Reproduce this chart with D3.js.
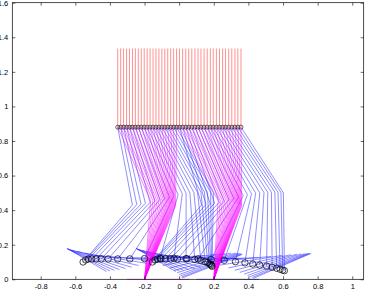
<!DOCTYPE html>
<html>
<head>
<meta charset="utf-8">
<script src="https://cdn.jsdelivr.net/npm/d3@7/dist/d3.min.js"></script>
<style>
  body { margin: 0; background: #fff; }
  text { font-family: "Liberation Sans", Arial, sans-serif; }
</style>
</head>
<body>
<svg id="chart"></svg>
<script>
'use strict';

// tick labels
const xTicks = [-0.8, -0.6, -0.4, -0.2, 0, 0.2, 0.4, 0.6, 0.8, 1];
const yTicks = [0, 0.2, 0.4, 0.6, 0.8, 1, 1.2, 1.4, 1.6];

// hip path (two steps, 21 frames each)
const hipX = [-0.355, -0.338, -0.321, -0.304, -0.287, -0.270, -0.253, -0.236, -0.219, -0.202, -0.185,
  -0.168, -0.151, -0.134, -0.117, -0.100, -0.083, -0.066, -0.049, -0.032, -0.015,
  0.002, 0.020, 0.038, 0.055, 0.073, 0.091, 0.109, 0.126, 0.144, 0.162, 0.180,
  0.197, 0.215, 0.233, 0.251, 0.268, 0.286, 0.304, 0.322, 0.339, 0.357];
const hipY = 0.88;
const trunkTopY = 1.335;

// stance leg (ankle fixed on the ground for each step)
const stanceAnkleX = [-0.2, 0.2];
const stanceHeelX = [-0.30, 0.10];
const stanceToeX = [0.06, 0.46];
const stanceKneeX = [-0.165, -0.152, -0.140, -0.128, -0.117, -0.106, -0.096, -0.087, -0.079, -0.072, -0.066,
  -0.060, -0.055, -0.050, -0.045, -0.041, -0.037, -0.033, -0.029, -0.025, -0.021,
  0.225, 0.238, 0.250, 0.262, 0.273, 0.283, 0.292, 0.300, 0.308, 0.315, 0.321,
  0.327, 0.332, 0.337, 0.341, 0.345, 0.349, 0.352, 0.355, 0.358, 0.361];
const stanceKneeY = [0.455, 0.455, 0.454, 0.453, 0.452, 0.451, 0.450, 0.449, 0.447, 0.446, 0.445,
  0.443, 0.441, 0.439, 0.437, 0.435, 0.433, 0.431, 0.429, 0.427, 0.425,
  0.455, 0.455, 0.454, 0.453, 0.452, 0.451, 0.450, 0.449, 0.447, 0.446, 0.445,
  0.443, 0.441, 0.439, 0.437, 0.435, 0.433, 0.431, 0.429, 0.427, 0.425];

// swing leg
const swingKneeX = [-0.270, -0.245, -0.220, -0.195, -0.168, -0.140, -0.112, -0.084, -0.056, -0.030, -0.006,
  0.018, 0.040, 0.062, 0.085, 0.106, 0.126, 0.146, 0.164, 0.182, 0.198,
  0.130, 0.155, 0.180, 0.205, 0.232, 0.260, 0.288, 0.316, 0.344, 0.370, 0.394,
  0.418, 0.442, 0.466, 0.490, 0.512, 0.533, 0.553, 0.571, 0.588, 0.602];
const swingKneeY = [0.430, 0.432, 0.435, 0.440, 0.445, 0.452, 0.460, 0.468, 0.476, 0.484, 0.490,
  0.495, 0.498, 0.500, 0.502, 0.503, 0.504, 0.504, 0.503, 0.502, 0.500,
  0.430, 0.432, 0.435, 0.440, 0.445, 0.452, 0.460, 0.468, 0.476, 0.484, 0.490,
  0.495, 0.498, 0.500, 0.502, 0.503, 0.504, 0.504, 0.503, 0.502, 0.500];
const swingAnkleX = [-0.555, -0.540, -0.525, -0.505, -0.480, -0.450, -0.410, -0.355, -0.285, -0.200, -0.110,
  -0.030, 0.040, 0.090, 0.125, 0.150, 0.165, 0.175, 0.182, 0.187, 0.190,
  -0.155, -0.140, -0.125, -0.105, -0.080, -0.050, -0.010, 0.045, 0.110, 0.185, 0.260,
  0.325, 0.380, 0.425, 0.465, 0.505, 0.537, 0.563, 0.583, 0.598, 0.608];
const swingAnkleY = [0.100, 0.112, 0.117, 0.118, 0.118, 0.118, 0.118, 0.118, 0.118, 0.120, 0.122,
  0.122, 0.120, 0.115, 0.110, 0.103, 0.097, 0.090, 0.085, 0.080, 0.075,
  0.100, 0.112, 0.117, 0.118, 0.118, 0.118, 0.118, 0.118, 0.118, 0.115, 0.110,
  0.102, 0.095, 0.088, 0.082, 0.076, 0.070, 0.064, 0.058, 0.053, 0.050];
const swingHeelX = [-0.650, -0.648, -0.645, -0.640, -0.632, -0.615, -0.590, -0.545, -0.480, -0.400, -0.305,
  -0.220, -0.150, -0.095, -0.055, -0.030, -0.012, 0.000, 0.008, 0.014, 0.018,
  -0.250, -0.248, -0.245, -0.240, -0.232, -0.215, -0.190, -0.145, -0.080, 0.000, 0.090,
  0.170, 0.235, 0.285, 0.320, 0.350, 0.375, 0.395, 0.410, 0.422, 0.430];
const swingHeelY = [0.180, 0.178, 0.176, 0.174, 0.172, 0.168, 0.162, 0.150, 0.138, 0.128, 0.120,
  0.110, 0.095, 0.080, 0.065, 0.050, 0.038, 0.028, 0.020, 0.013, 0.008,
  0.180, 0.178, 0.176, 0.174, 0.172, 0.168, 0.162, 0.150, 0.138, 0.128, 0.115,
  0.100, 0.082, 0.066, 0.052, 0.040, 0.030, 0.022, 0.015, 0.010, 0.006];
const swingToeX = [-0.420, -0.400, -0.375, -0.345, -0.310, -0.275, -0.235, -0.185, -0.120, -0.030, 0.060,
  0.145, 0.215, 0.265, 0.300, 0.325, 0.340, 0.350, 0.357, 0.362, 0.365,
  -0.020, 0.000, 0.025, 0.055, 0.090, 0.125, 0.165, 0.215, 0.280, 0.370, 0.455,
  0.530, 0.595, 0.645, 0.680, 0.705, 0.725, 0.740, 0.750, 0.757, 0.762];
const swingToeY = [0.045, 0.048, 0.052, 0.056, 0.062, 0.070, 0.080, 0.092, 0.105, 0.118, 0.128,
  0.138, 0.145, 0.150, 0.152, 0.152, 0.151, 0.150, 0.148, 0.146, 0.144,
  0.045, 0.048, 0.052, 0.056, 0.062, 0.070, 0.080, 0.092, 0.105, 0.118, 0.125,
  0.132, 0.138, 0.142, 0.145, 0.147, 0.148, 0.149, 0.150, 0.150, 0.150];

const framesPerStep = 21;

function getChartConfig() {
  let margin = { top: 2.7, right: 2.3, bottom: 10.7, left: 12.3 },
    width = 366 - margin.left - margin.right,
    height = 290 - margin.top - margin.bottom;

  let svg = d3.select("#chart")
    .attr("width", 366)
    .attr("height", 290)
    .style("display", "block");

  svg.append("rect").attr("width", 366).attr("height", 290).attr("fill", "#fff");

  let container = svg.append("g")
    .attr("transform", "translate(" + margin.left + "," + margin.top + ")");

  return { width, height, container, margin };
}

function getScales(config) {
  let { width, height } = config;
  let xScale = d3.scaleLinear().domain([-0.964, 1.066]).range([0, width]);
  let yScale = d3.scaleLinear().domain([0, 1.6]).range([height, 0]);
  return { xScale, yScale };
}

function drawAxes(config, scales) {
  let { container, width, height } = config;
  let { xScale, yScale } = scales;
  let fmt = d => String(d);

  let styleAxis = g => {
    g.select(".domain").remove();
    g.selectAll("line").attr("stroke", "#000").attr("stroke-width", 0.6);
    g.selectAll("text").attr("fill", "#000").style("font-size", "7.5px");
  };

  container.append("g")
    .attr("transform", "translate(0," + height + ")")
    .call(d3.axisBottom(xScale).tickValues(xTicks).tickFormat(fmt).tickSize(-3).tickPadding(4))
    .call(styleAxis);
  container.append("g")
    .call(d3.axisTop(xScale).tickValues(xTicks).tickFormat("").tickSize(-3))
    .call(styleAxis);
  container.append("g")
    .call(d3.axisLeft(yScale).tickValues(yTicks).tickFormat(fmt).tickSize(-3).tickPadding(4))
    .call(styleAxis);
  container.append("g")
    .attr("transform", "translate(" + width + ",0)")
    .call(d3.axisRight(yScale).tickValues(yTicks).tickFormat("").tickSize(-3))
    .call(styleAxis);

  container.append("rect")
    .attr("width", width)
    .attr("height", height)
    .attr("fill", "none")
    .attr("stroke", "#000")
    .attr("stroke-width", 0.7);
}

function drawFrames(config, scales) {
  let { container } = config;
  let { xScale, yScale } = scales;
  let line = d3.line().x(p => xScale(p[0])).y(p => yScale(p[1]));
  let frames = d3.range(hipX.length);
  let step = i => Math.floor(i / framesPerStep);

  let legs = container.append("g").attr("fill", "none").attr("stroke-width", 0.5);

  // swing legs and feet
  legs.selectAll(".swing")
    .data(frames)
    .enter()
    .append("path")
    .attr("class", "swing")
    .attr("stroke", "#1f1fff")
    .attr("d", i => line([
      [hipX[i], hipY],
      [swingKneeX[i], swingKneeY[i]],
      [swingAnkleX[i], swingAnkleY[i]]
    ]));

  legs.selectAll(".swingFoot")
    .data(frames)
    .enter()
    .append("path")
    .attr("class", "swingFoot")
    .attr("stroke", "#1f1fff")
    .attr("d", i => line([
      [swingHeelX[i], swingHeelY[i]],
      [swingToeX[i], swingToeY[i]]
    ]));

  // stance feet
  legs.selectAll(".stanceFoot")
    .data([0, 1])
    .enter()
    .append("path")
    .attr("class", "stanceFoot")
    .attr("stroke", s => s === 0 ? "#ff00ff" : "#1f1fff")
    .attr("d", s => line([[stanceHeelX[s], 0], [stanceToeX[s], 0]]));

  // stance legs
  legs.selectAll(".stance")
    .data(frames)
    .enter()
    .append("path")
    .attr("class", "stance")
    .attr("stroke", "#ff00ff")
    .attr("d", i => line([
      [hipX[i], hipY],
      [stanceKneeX[i], stanceKneeY[i]],
      [stanceAnkleX[step(i)], 0]
    ]));

  // trunk
  container.append("g")
    .selectAll("line")
    .data(frames)
    .enter()
    .append("line")
    .attr("stroke", "#ff2020")
    .attr("stroke-width", 0.5)
    .attr("x1", i => xScale(hipX[i]))
    .attr("x2", i => xScale(hipX[i]))
    .attr("y1", yScale(hipY))
    .attr("y2", yScale(trunkTopY));

  // hip markers
  container.append("g")
    .selectAll("circle")
    .data(frames)
    .enter()
    .append("circle")
    .attr("cx", i => xScale(hipX[i]))
    .attr("cy", yScale(hipY))
    .attr("r", 2)
    .attr("fill", "none")
    .attr("stroke", "#000")
    .attr("stroke-width", 0.6);

  // ankle markers
  container.append("g")
    .selectAll("circle")
    .data(frames)
    .enter()
    .append("circle")
    .attr("cx", i => xScale(swingAnkleX[i]))
    .attr("cy", i => yScale(swingAnkleY[i]))
    .attr("r", 3.2)
    .attr("fill", "none")
    .attr("stroke", "#000")
    .attr("stroke-width", 0.7);
}

function drawChart() {
  let config = getChartConfig();
  let scales = getScales(config);
  drawFrames(config, scales);
  drawAxes(config, scales);
}

drawChart();
</script>
</body>
</html>
